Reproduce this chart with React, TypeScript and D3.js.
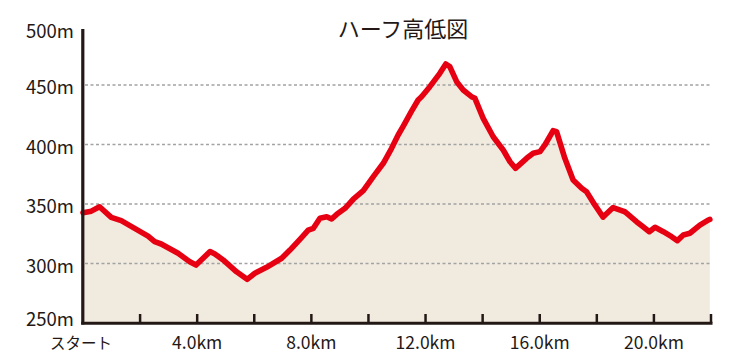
import React from "react";
import * as d3 from "d3";

const title = "ハーフ高低図";
const distanceKm = [0, 0.29, 0.58, 0.99, 1.34, 1.87, 2.28, 2.51, 2.74, 3.33, 3.74, 3.96, 4.45, 4.62, 4.91, 5.38, 5.75, 6.02, 6.43, 6.96, 7.25, 7.6, 7.89, 8.07, 8.3, 8.54, 8.71, 8.89, 9.18, 9.47, 9.82, 10.17, 10.52, 10.81, 11.04, 11.22, 11.5, 11.74, 11.86, 12.15, 12.5, 12.71, 12.85, 13.09, 13.32, 13.61, 13.73, 14.02, 14.37, 14.72, 14.96, 15.15, 15.54, 15.77, 16.01, 16.18, 16.47, 16.59, 16.88, 17.17, 17.47, 17.64, 17.93, 18.22, 18.57, 18.87, 18.98, 19.39, 19.62, 19.84, 20.04, 20.33, 20.62, 20.82, 21.03, 21.26, 21.61, 21.9, 21.96];
const elevationM = [342.7, 344, 347.7, 338.8, 336, 328.7, 323, 318.3, 316.4, 308.6, 301.5, 298.7, 310, 308, 303, 293, 286.7, 291.8, 296.8, 304.4, 311.3, 320.3, 328, 329.6, 338, 339.3, 337.4, 341.3, 346.4, 354, 361.2, 373, 384.2, 396.8, 408, 415.5, 427.6, 437.4, 440.2, 448.6, 459.8, 467.6, 465.4, 452.8, 445.8, 440.2, 438.8, 422, 406.5, 395.4, 385.5, 380, 388.4, 392.6, 394, 399.6, 411.6, 410.8, 388.4, 370.2, 363.2, 360.3, 349.2, 339, 347, 344.4, 343.5, 335.1, 330.9, 326.7, 330.4, 326.7, 322.5, 319.2, 324, 325.4, 332.3, 336.5, 337];
const yTicks = [250, 300, 350, 400, 450, 500];
const yTickLabels = ["250m", "300m", "350m", "400m", "450m", "500m"];
const gridValues = [300, 350, 400, 450];
const xTicks = [2, 4, 6, 8, 10, 12, 14, 16, 18, 20, 22];
const xLabelValues = [0, 4, 8, 12, 16, 20];
const xLabels = ["スタート", "4.0km", "8.0km", "12.0km", "16.0km", "20.0km"];

const W = 749;
const H = 361;
const FONT = "'Noto Sans CJK JP', 'Noto Sans', sans-serif";

export default function App() {
  const x = d3.scaleLinear().domain([0, 22]).range([83, 711]);
  const y = d3.scaleLinear().domain([250, 500]).range([323, 25.5]);
  const pts = distanceKm.map((d, i) => [d, elevationM[i]] as [number, number]);
  const line = d3.line<[number, number]>().x((d) => x(d[0])).y((d) => y(d[1])).curve(d3.curveLinear);
  const area = d3.area<[number, number]>().x((d) => x(d[0])).y0(y(250)).y1((d) => y(d[1]));

  return (
    <svg width={W} height={H} style={{ position: "absolute", left: 0, top: 0, background: "#fff" }}>
      <path d={area(pts) || ""} fill="#f1ebdf" />
      {gridValues.map((v) => (
        <line key={v} x1={85} x2={710} y1={y(v)} y2={y(v)} stroke="#a3a3a3" strokeWidth={1.3} strokeDasharray="3,2.5" />
      ))}
      <path d={line(pts) || ""} fill="none" stroke="#e60012" strokeWidth={5.6} strokeLinejoin="round" strokeLinecap="round" />
      <line x1={82.8} x2={82.8} y1={29} y2={324.5} stroke="#231815" strokeWidth={3.2} />
      <line x1={81.2} x2={712.5} y1={323.3} y2={323.3} stroke="#231815" strokeWidth={3} />
      {xTicks.map((t) => (
        <line key={t} x1={x(t)} x2={x(t)} y1={314} y2={323} stroke="#231815" strokeWidth={2.5} />
      ))}
      {yTicks.map((v, i) => (
        <text key={v} x={74} y={Math.min(Math.max(y(v) + 1.3, 30), 317.5)} textAnchor="end" dominantBaseline="central" fontFamily={FONT} fontSize={18.5} fill="#231815">
          {yTickLabels[i]}
        </text>
      ))}
      {xLabelValues.map((v, i) => (
        <text key={v} x={x(v) - (i === 0 ? 2 : 0)} y={341.5} textAnchor="middle" dominantBaseline="central" fontFamily={FONT} fontSize={i === 0 ? 15.5 : 17.5} fill="#231815">
          {xLabels[i]}
        </text>
      ))}
      <text x={403} y={27} textAnchor="middle" dominantBaseline="central" fontFamily={FONT} fontSize={22} fill="#231815">
        {title}
      </text>
    </svg>
  );
}
